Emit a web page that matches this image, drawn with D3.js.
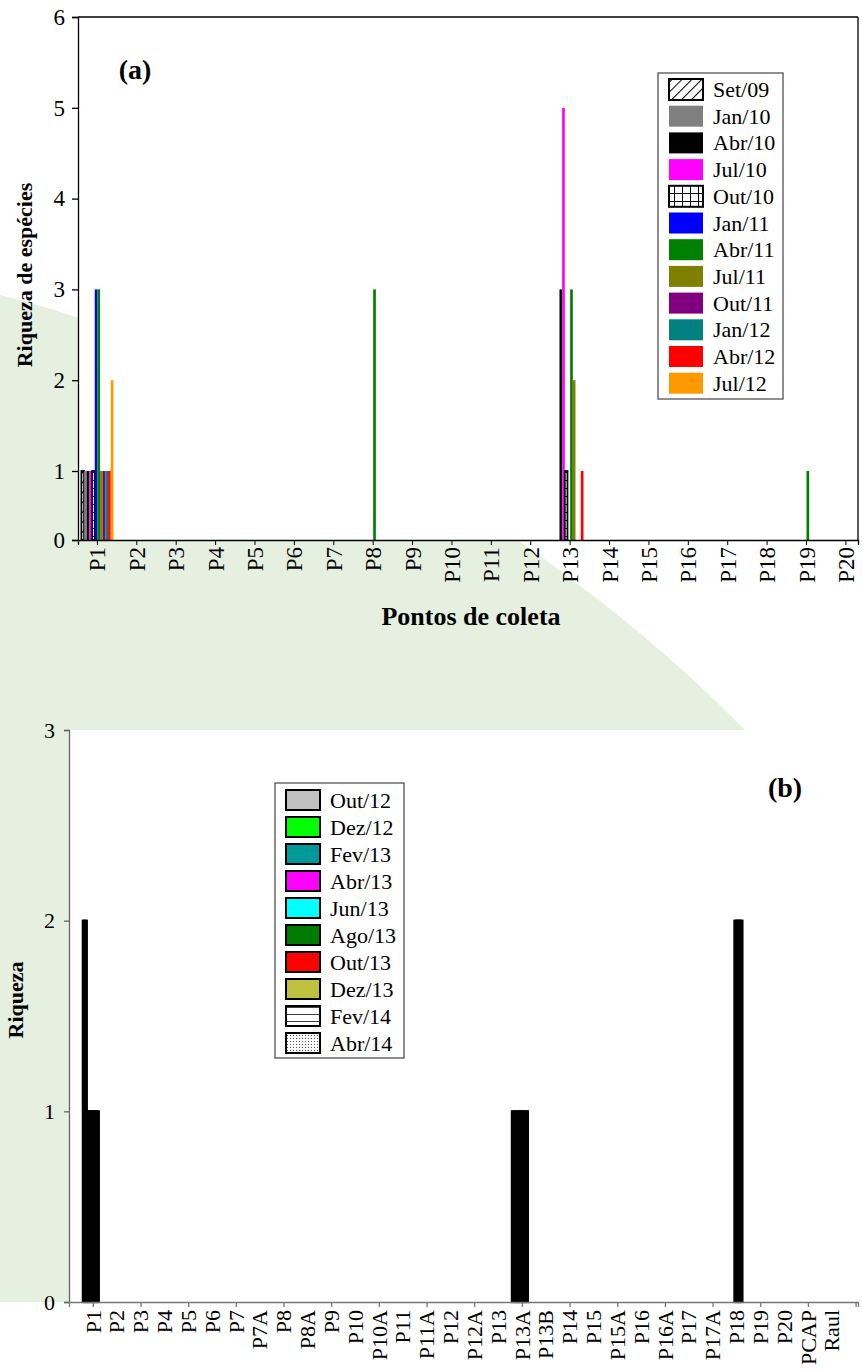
<!DOCTYPE html>
<html><head><meta charset="utf-8">
<script src="https://cdn.jsdelivr.net/npm/d3@7"></script>
<style>
body{margin:0;background:#fff;}
svg{display:block;font-family:"Liberation Serif","Times New Roman",serif;}
</style></head>
<body><svg id="c" width="862" height="1371"></svg>
<script>
// ---------- Panel (a) data ----------
const catsA = ["P1","P2","P3","P4","P5","P6","P7","P8","P9","P10","P11","P12","P13","P14","P15","P16","P17","P18","P19","P20"];
const seriesA = ["Set/09","Jan/10","Abr/10","Jul/10","Out/10","Jan/11","Abr/11","Jul/11","Out/11","Jan/12","Abr/12","Jul/12"];
const set09 = [1,0,0,0,0,0,0,0,0,0,0,0,0,0,0,0,0,0,0,0];
const jan10 = [1,0,0,0,0,0,0,0,0,0,0,0,0,0,0,0,0,0,0,0];
const abr10 = [1,0,0,0,0,0,0,0,0,0,0,0,3,0,0,0,0,0,0,0];
const jul10 = [1,0,0,0,0,0,0,0,0,0,0,0,5,0,0,0,0,0,0,0];
const out10 = [1,0,0,0,0,0,0,0,0,0,0,0,1,0,0,0,0,0,0,0];
const jan11 = [3,0,0,0,0,0,0,0,0,0,0,0,0,0,0,0,0,0,0,0];
const abr11 = [3,0,0,0,0,0,0,3,0,0,0,0,3,0,0,0,0,0,1,0];
const jul11 = [1,0,0,0,0,0,0,0,0,0,0,0,2,0,0,0,0,0,0,0];
const out11 = [1,0,0,0,0,0,0,0,0,0,0,0,0,0,0,0,0,0,0,0];
const jan12 = [1,0,0,0,0,0,0,0,0,0,0,0,0,0,0,0,0,0,0,0];
const abr12 = [1,0,0,0,0,0,0,0,0,0,0,0,1,0,0,0,0,0,0,0];
const jul12 = [2,0,0,0,0,0,0,0,0,0,0,0,0,0,0,0,0,0,0,0];
const yTicksA = [0,1,2,3,4,5,6];

// ---------- Panel (b) data ----------
const catsB = ["P1","P2","P3","P4","P5","P6","P7","P7A","P8","P8A","P9","P10","P10A","P11","P11A","P12","P12A","P13","P13A","P13B","P14","P15","P15A","P16","P16A","P17","P17A","P18","P19","P20","PCAP","Raul"];
const seriesB = ["Out/12","Dez/12","Fev/13","Abr/13","Jun/13","Ago/13","Out/13","Dez/13","Fev/14","Abr/14"];
const out12 = [2,0,0,0,0,0,0,0,0,0,0,0,0,0,0,0,0,0,1,0,0,0,0,0,0,0,0,0,0,0,0,0];
const dez12 = [2,0,0,0,0,0,0,0,0,0,0,0,0,0,0,0,0,0,1,0,0,0,0,0,0,0,0,0,0,0,0,0];
const fev13 = [1,0,0,0,0,0,0,0,0,0,0,0,0,0,0,0,0,0,1,0,0,0,0,0,0,0,0,0,0,0,0,0];
const abr13 = [1,0,0,0,0,0,0,0,0,0,0,0,0,0,0,0,0,0,1,0,0,0,0,0,0,0,0,0,0,0,0,0];
const jun13 = [1,0,0,0,0,0,0,0,0,0,0,0,0,0,0,0,0,0,1,0,0,0,0,0,0,0,0,2,0,0,0,0];
const ago13 = [1,0,0,0,0,0,0,0,0,0,0,0,0,0,0,0,0,0,1,0,0,0,0,0,0,0,0,2,0,0,0,0];
const out13 = [1,0,0,0,0,0,0,0,0,0,0,0,0,0,0,0,0,0,1,0,0,0,0,0,0,0,0,2,0,0,0,0];
const dez13 = [1,0,0,0,0,0,0,0,0,0,0,0,0,0,0,0,0,0,1,0,0,0,0,0,0,0,0,2,0,0,0,0];
const fev14 = [0,0,0,0,0,0,0,0,0,0,0,0,0,0,0,0,0,0,0,0,0,0,0,0,0,0,0,0,0,0,0,0];
const abr14 = [0,0,0,0,0,0,0,0,0,0,0,0,0,0,0,0,0,0,0,0,0,0,0,0,0,0,0,0,0,0,0,0];
const yTicksB = [0,1,2,3];

// ---------- styles ----------
const fillsA = ["url(#hatch)","#808080","#000000","#ff00ff","url(#grid)","#0000ff","#008000","#808000","#800080","#008080","#ff0000","#ff9900"];
const strokeA = [true,false,false,false,true,false,false,false,false,false,false,false];
const valuesA = [set09,jan10,abr10,jul10,out10,jan11,abr11,jul11,out11,jan12,abr12,jul12];
const fillsB = ["#c0c0c0","#00ff00","#009999","#ff00ff","#00ffff","#007a00","#ff0000","#c0c040","url(#hlines)","url(#dots)"];
const valuesB = [out12,dez12,fev13,abr13,jun13,ago13,out13,dez13,fev14,abr14];

const FONT = "Liberation Serif";
const svg = d3.select("#c");
const defs = svg.append("defs");
const ph = defs.append("pattern").attr("id","hatch").attr("patternUnits","userSpaceOnUse").attr("width",7).attr("height",7).attr("patternTransform","rotate(45)");
ph.append("rect").attr("width",7).attr("height",7).attr("fill","#fff");
ph.append("line").attr("x1",0).attr("y1",0).attr("x2",0).attr("y2",7).attr("stroke","#000").attr("stroke-width",2);
const pg = defs.append("pattern").attr("id","grid").attr("patternUnits","userSpaceOnUse").attr("width",8).attr("height",8);
pg.append("rect").attr("width",8).attr("height",8).attr("fill","#fff");
pg.append("path").attr("d","M0,0H8M0,0V8").attr("stroke","#000").attr("stroke-width",2);
const pl = defs.append("pattern").attr("id","hlines").attr("patternUnits","userSpaceOnUse").attr("width",8).attr("height",7);
pl.append("rect").attr("width",8).attr("height",7).attr("fill","#fff");
pl.append("line").attr("x1",0).attr("x2",8).attr("y1",0).attr("y2",0).attr("stroke","#000").attr("stroke-width",1.5);
const pd = defs.append("pattern").attr("id","dots").attr("patternUnits","userSpaceOnUse").attr("width",3).attr("height",3);
pd.append("rect").attr("width",3).attr("height",3).attr("fill","#fff");
pd.append("rect").attr("width",1).attr("height",1).attr("fill","#555");

// background decorative green shape
svg.append("path")
  .attr("d","M0,295 C260,360 560,540 745,730 L69,730 L69,1302 L0,1302 Z")
  .attr("fill","#e6f0e0");

// ================= Panel (a) =================
const xA = d3.scaleLinear().domain([-0.48, 19.32]).range([78, 858]);
const yA = d3.scaleLinear().domain([0,1,6]).range([540,471,17]);
const nA = seriesA.length, groupA = 0.8125, bwA = groupA/nA;

svg.append("rect").attr("x",xA(-0.48)).attr("y",yA(6)).attr("width",xA(19.32)-xA(-0.48)).attr("height",yA(0)-yA(6)).attr("fill","#fff");

const gA = svg.append("g");
seriesA.forEach((s,si)=>{
  gA.selectAll(null).data(valuesA[si].map((v,i)=>({v,i}))).enter()
    .filter(d=>d.v>0)
    .append("rect")
    .attr("x",d=>xA(d.i - groupA/2 + 0.013 + si*bwA))
    .attr("width",d=>xA(bwA)-xA(0))
    .attr("y",d=>yA(d.v))
    .attr("height",d=>yA(0)-yA(d.v))
    .attr("fill",fillsA[si])
    .attr("stroke",strokeA[si]?"#000":"none")
    .attr("stroke-width",1.8);
});

const fr = svg.append("g").attr("stroke","#000").attr("stroke-width",1.3).attr("fill","none");
fr.append("line").attr("x1",xA(-0.48)).attr("x2",xA(19.32)).attr("y1",yA(6)).attr("y2",yA(6));
fr.append("line").attr("x1",xA(19.32)).attr("x2",xA(19.32)).attr("y1",yA(6)).attr("y2",yA(0));

const axYA = svg.append("g").attr("transform",`translate(${xA(-0.48)},0)`)
  .call(d3.axisLeft(yA).tickValues(yTicksA).tickSize(6).tickPadding(7).tickFormat(d3.format("d")));
axYA.selectAll("text").attr("font-size",23).attr("font-family",FONT).attr("fill","#000");
axYA.selectAll("line,path").attr("stroke","#000").attr("stroke-width",1.3);

const axXA = svg.append("g").attr("transform",`translate(0,${yA(0)})`)
  .call(d3.axisBottom(xA).tickValues(d3.range(catsA.length)).tickSize(5).tickFormat(i=>catsA[i]));
axXA.select(".domain").attr("stroke","#000").attr("stroke-width",1.3);
axXA.selectAll(".tick line").attr("stroke","#000");
axXA.selectAll("text").attr("font-size",23).attr("font-family",FONT).attr("fill","#000")
  .attr("transform","rotate(-90)").attr("text-anchor","end").attr("dy","0.35em").attr("x",-7).attr("y",0);

svg.append("text").attr("x",135).attr("y",79).attr("text-anchor","middle").attr("font-size",28).attr("font-weight","bold").text("(a)");
svg.append("text").attr("transform","translate(32,275) rotate(-90)").attr("text-anchor","middle").attr("font-size",22).attr("font-weight","bold").text("Riqueza de espécies");
svg.append("text").attr("x",471).attr("y",625).attr("text-anchor","middle").attr("font-size",26).attr("font-weight","bold").text("Pontos de coleta");

// legend a
const legA = svg.append("g").attr("transform","translate(658,73)");
legA.append("rect").attr("width",125).attr("height",326).attr("fill","#fff").attr("stroke","#444").attr("stroke-width",1.2);
seriesA.forEach((s,i)=>{
  const y = 6 + i*26.7;
  legA.append("rect").attr("x",11).attr("y",y).attr("width",34).attr("height",21)
    .attr("fill",fillsA[i]).attr("stroke",strokeA[i]?"#000":"none").attr("stroke-width",2);
  legA.append("text").attr("x",55).attr("y",y+18).attr("font-size",22).text(s);
});

// ================= Panel (b) =================
const xB = d3.scaleLinear().domain([-1, 32.1]).range([69, 858]);
const yB = d3.scaleLinear().domain([0,3]).range([1302,730]);
const nB = seriesB.length, groupB = 0.84, bwB = groupB/nB;

svg.append("rect").attr("x",xB(-1)).attr("y",yB(3)).attr("width",xB(32.1)-xB(-1)).attr("height",yB(0)-yB(3)).attr("fill","#fff");

const gB = svg.append("g");
seriesB.forEach((s,si)=>{
  gB.selectAll(null).data(valuesB[si].map((v,i)=>({v,i}))).enter()
    .filter(d=>d.v>0)
    .append("rect")
    .attr("x",d=>xB(d.i - groupB/2 + si*bwB))
    .attr("width",d=>xB(bwB)-xB(0))
    .attr("y",d=>yB(d.v))
    .attr("height",d=>yB(0)-yB(d.v))
    .attr("fill",fillsB[si])
    .attr("stroke","#000").attr("stroke-width",2.2);
});

const axYB = svg.append("g").attr("transform",`translate(${xB(-1)},0)`)
  .call(d3.axisLeft(yB).tickValues(yTicksB).tickSize(5).tickPadding(9).tickFormat(d3.format("d")));
axYB.selectAll("text").attr("font-size",22).attr("font-family",FONT).attr("fill","#000");
axYB.selectAll("line,path").attr("stroke","#666").attr("stroke-width",1.3);

const axXB = svg.append("g").attr("transform",`translate(0,${yB(0)})`)
  .call(d3.axisBottom(xB).tickValues(d3.range(0,33,2)).tickSize(5).tickFormat(""));
axXB.selectAll("line,path").attr("stroke","#777").attr("stroke-width",1.3);
svg.append("g").selectAll("text").data(catsB).enter().append("text")
  .attr("transform",(d,i)=>`translate(${xB(i)},${yB(0)+8}) rotate(-90)`)
  .attr("text-anchor","end").attr("dy","0.35em").attr("font-size",22).text(d=>d);

svg.append("text").attr("x",785).attr("y",797).attr("text-anchor","middle").attr("font-size",28).attr("font-weight","bold").text("(b)");
svg.append("text").attr("transform","translate(23,1000) rotate(-90)").attr("text-anchor","middle").attr("font-size",22).attr("font-weight","bold").text("Riqueza");

// legend b
const legB = svg.append("g").attr("transform","translate(275,783)");
legB.append("rect").attr("width",129).attr("height",275).attr("fill","#fff").attr("stroke","#444").attr("stroke-width",1.2);
seriesB.forEach((s,i)=>{
  const y = 7 + i*27;
  legB.append("rect").attr("x",11).attr("y",y).attr("width",34).attr("height",20)
    .attr("fill",fillsB[i]).attr("stroke","#000").attr("stroke-width",2);
  legB.append("text").attr("x",55).attr("y",y+18).attr("font-size",22).text(s);
});
</script></body></html>
